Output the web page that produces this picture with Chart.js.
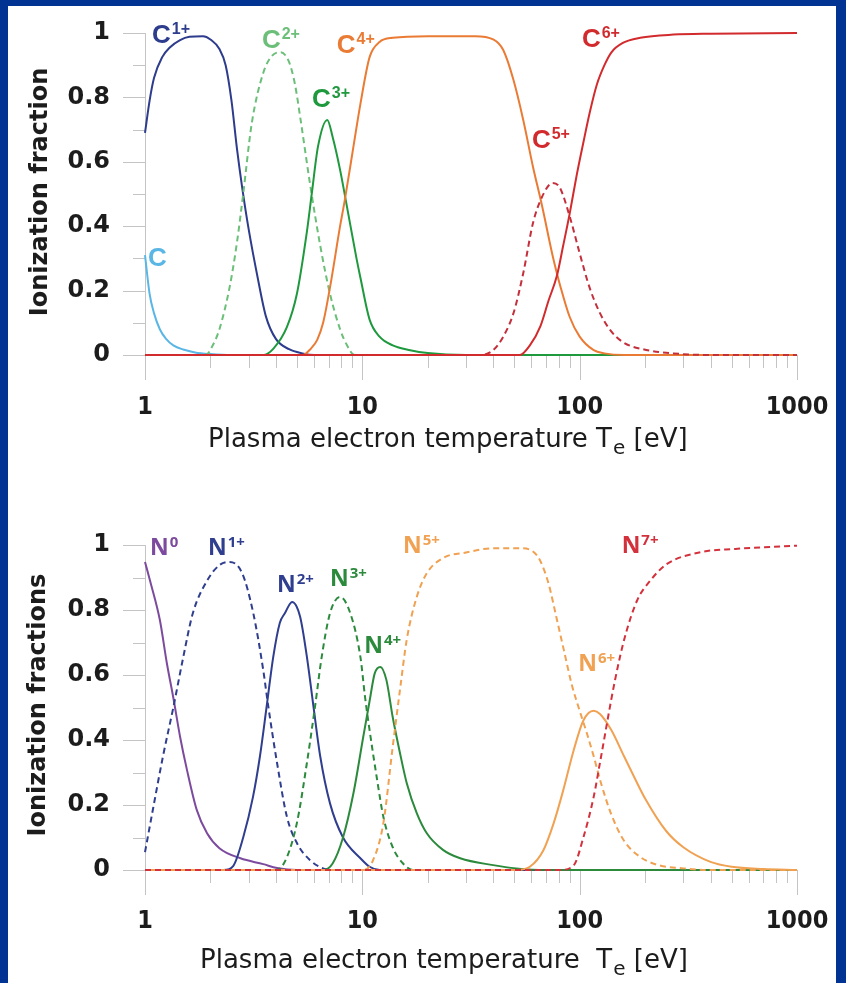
<!DOCTYPE html>
<html>
<head>
<meta charset="utf-8">
<script src="https://cdn.jsdelivr.net/npm/chart.js@4.4.1/dist/chart.umd.min.js"></script>
<style>
  html, body { margin: 0; padding: 0; width: 846px; height: 983px; overflow: hidden; background: #003392; }
  #panel { position: absolute; left: 8px; top: 6px; width: 828px; height: 977px; background: #fff; }
  #panel canvas { position: absolute; left: 0; }
  #carbon-chart { top: 0; }
  #nitrogen-chart { top: 484px; }
</style>
</head>
<body>
<div id="panel">
  <canvas id="carbon-chart" width="828" height="478"></canvas>
  <canvas id="nitrogen-chart" width="828" height="493"></canvas>
</div>
<script>
// Axis ticks (electron temperature in eV, ionization fraction)
const xMajorTicks = [1, 10, 100, 1000];
const xMinorTicks = [2, 3, 4, 5, 6, 7, 8, 9, 20, 30, 40, 50, 60, 70, 80, 90, 200, 300, 400, 500, 600, 700, 800, 900];
const yMajorTicks = [0, 0.2, 0.4, 0.6, 0.8, 1];
const yMinorTicks = [0.1, 0.3, 0.5, 0.7, 0.9];

// Carbon charge states: [Te (eV), fraction]
const carbon0 = [[1, 0.31], [1.05, 0.19], [1.1, 0.13], [1.17, 0.08], [1.25, 0.05], [1.35, 0.03], [1.5, 0.017], [1.7, 0.008], [2, 0.003], [2.5, 0], [1000, 0]];
const carbon1 = [[1, 0.69], [1.05, 0.79], [1.1, 0.86], [1.2, 0.925], [1.3, 0.955], [1.45, 0.978], [1.6, 0.988], [1.85, 0.99], [2, 0.98], [2.2, 0.95], [2.35, 0.9], [2.5, 0.79], [2.65, 0.64], [2.8, 0.52], [3, 0.39], [3.3, 0.24], [3.6, 0.12], [4, 0.05], [4.6, 0.018], [5.3, 0.005], [6, 0], [1000, 0]];
const carbon2 = [[1, 0], [1.9, 0], [2.05, 0.03], [2.2, 0.08], [2.45, 0.21], [2.65, 0.35], [2.83, 0.5], [3.1, 0.72], [3.5, 0.876], [3.85, 0.93], [4.2, 0.94], [4.6, 0.91], [4.9, 0.84], [5.2, 0.73], [5.75, 0.53], [6.4, 0.34], [7.1, 0.19], [7.9, 0.08], [8.5, 0.03], [9.2, 0], [1000, 0]];
const carbon3 = [[1, 0], [3.5, 0], [3.9, 0.02], [4.5, 0.087], [5, 0.19], [5.55, 0.38], [5.85, 0.5], [6.25, 0.647], [6.9, 0.73], [7.3, 0.677], [7.9, 0.575], [8.5, 0.46], [9.4, 0.3], [9.8, 0.24], [10.8, 0.11], [12, 0.057], [13.8, 0.03], [16.6, 0.015], [20, 0.006], [30, 0], [1000, 0]];
const carbon4 = [[1, 0], [5.3, 0], [5.8, 0.02], [6.2, 0.047], [6.6, 0.1], [7.1, 0.21], [7.9, 0.4], [8.3, 0.48], [9.1, 0.647], [9.8, 0.78], [10.8, 0.925], [12, 0.972], [13.8, 0.985], [20, 0.99], [33, 0.99], [40, 0.98], [44.5, 0.947], [49.6, 0.854], [55, 0.73], [61, 0.584], [67, 0.466], [75, 0.31], [78.5, 0.255], [81, 0.22], [90, 0.118], [100, 0.057], [116, 0.015], [130, 0.005], [160, 0], [1000, 0]];
const carbon5 = [[1, 0], [35, 0], [40, 0.015], [44.5, 0.057], [49.6, 0.13], [55, 0.254], [61, 0.41], [67, 0.49], [75, 0.534], [81, 0.52], [90, 0.43], [100, 0.316], [111, 0.21], [124, 0.13], [138, 0.078], [158, 0.04], [195, 0.018], [270, 0.005], [400, 0], [1000, 0]];
const carbon6 = [[1, 0], [53, 0], [59, 0.03], [66, 0.09], [72, 0.17], [78.5, 0.245], [84, 0.34], [90, 0.44], [97, 0.56], [104, 0.66], [111, 0.75], [120, 0.84], [130, 0.9], [140, 0.94], [158, 0.969], [190, 0.985], [270, 0.995], [400, 0.998], [1000, 1]];

// Nitrogen charge states: [Te (eV), fraction]
const nitrogen0 = [[1, 0.948], [1.055, 0.89], [1.17, 0.77], [1.26, 0.637], [1.35, 0.53], [1.45, 0.41], [1.56, 0.308], [1.73, 0.185], [1.93, 0.113], [2.2, 0.067], [2.75, 0.036], [3.5, 0.018], [4.05, 0.006], [5, 0], [1000, 0]];
const nitrogen1 = [[1, 0.055], [1.09, 0.19], [1.21, 0.35], [1.35, 0.5], [1.5, 0.655], [1.66, 0.79], [1.93, 0.89], [2.2, 0.938], [2.45, 0.948], [2.8, 0.913], [3.15, 0.79], [3.5, 0.615], [3.68, 0.51], [4.05, 0.33], [4.5, 0.163], [5, 0.083], [5.75, 0.03], [6.6, 0.005], [7.5, 0], [1000, 0]];
const nitrogen2 = [[1, 0], [2.3, 0], [2.55, 0.013], [2.83, 0.1], [3.14, 0.225], [3.38, 0.35], [3.64, 0.51], [3.89, 0.655], [4.17, 0.76], [4.4, 0.79], [4.75, 0.825], [5.17, 0.78], [5.56, 0.655], [5.94, 0.51], [6.4, 0.35], [7.1, 0.205], [8.15, 0.1], [9.8, 0.036], [10.8, 0.01], [12, 0], [1000, 0]];
const nitrogen3 = [[1, 0], [4.05, 0], [4.5, 0.04], [5, 0.145], [5.56, 0.33], [6.05, 0.5], [6.5, 0.655], [7.1, 0.79], [7.9, 0.84], [8.8, 0.79], [9.8, 0.655], [10.3, 0.53], [10.8, 0.43], [11.7, 0.277], [12.5, 0.163], [13.8, 0.07], [15.4, 0.02], [17.1, 0], [1000, 0]];
const nitrogen4 = [[1, 0], [6.6, 0], [7.3, 0.02], [8.15, 0.1], [9.1, 0.236], [10.1, 0.41], [10.8, 0.52], [11.4, 0.605], [12.1, 0.625], [12.9, 0.585], [13.8, 0.47], [14.9, 0.36], [16, 0.268], [17.8, 0.175], [19.8, 0.113], [23.5, 0.062], [28.2, 0.036], [40, 0.015], [51, 0.005], [70, 0], [1000, 0]];
const nitrogen5 = [[1, 0], [10.1, 0], [11.2, 0.03], [12.5, 0.145], [13.8, 0.38], [14.9, 0.554], [16, 0.708], [17.8, 0.84], [19.8, 0.913], [23.5, 0.96], [30, 0.977], [40, 0.99], [53, 0.99], [61, 0.98], [66, 0.95], [72, 0.88], [78, 0.78], [85, 0.67], [92, 0.57], [100, 0.49], [108, 0.42], [116, 0.35], [125, 0.27], [140, 0.17], [160, 0.09], [190, 0.04], [230, 0.015], [300, 0.005], [400, 0], [1000, 0]];
const nitrogen6 = [[1, 0], [51, 0], [59, 0.01], [68, 0.06], [76, 0.145], [84, 0.245], [94, 0.37], [104, 0.46], [116, 0.49], [124, 0.48], [140, 0.43], [160, 0.35], [180, 0.28], [200, 0.22], [250, 0.12], [300, 0.07], [400, 0.025], [500, 0.01], [700, 0.003], [1000, 0]];
const nitrogen7 = [[1, 0], [81, 0], [94, 0.015], [104, 0.1], [116, 0.225], [124, 0.33], [145, 0.58], [161, 0.714], [184, 0.83], [211, 0.89], [250, 0.94], [362, 0.978], [520, 0.988], [1000, 0.998]];

const TICK_COLOR = '#c4c4c4';
const TEXT_COLOR = '#1c1c1c';

// gray axis lines with long major and short minor ticks
const ionAxes = {
    id: 'ionAxes',
    beforeDatasetsDraw(chart) {
        const { ctx, scales: { x, y } } = chart;
        const x0 = x.getPixelForValue(1);
        const yBase = y.getPixelForValue(0);
        const seg = (ax, ay, bx, by) => {
            ctx.beginPath();
            ctx.moveTo(ax, ay);
            ctx.lineTo(bx, by);
            ctx.stroke();
        };
        ctx.save();
        ctx.strokeStyle = TICK_COLOR;
        ctx.lineWidth = 1;
        seg(x0 + 0.5, y.getPixelForValue(1), x0 + 0.5, yBase + 25);
        seg(x0 - 22, yBase + 0.5, x.right, yBase + 0.5);
        yMajorTicks.forEach(v => { const p = Math.round(y.getPixelForValue(v)) + 0.5; seg(x0 - 22, p, x0, p); });
        yMinorTicks.forEach(v => { const p = Math.round(y.getPixelForValue(v)) + 0.5; seg(x0 - 12, p, x0, p); });
        xMajorTicks.forEach(v => { const p = Math.round(x.getPixelForValue(v)) + 0.5; seg(p, yBase, p, yBase + 25); });
        xMinorTicks.forEach(v => { const p = Math.round(x.getPixelForValue(v)) + 0.5; seg(p, yBase, p, yBase + 13); });
        ctx.restore();
    },
    afterDraw(chart, args, opts) {
        const { ctx } = chart;
        ctx.save();
        ctx.fillStyle = TEXT_COLOR;
        // x title with subscripted "e"
        ctx.font = opts.xTitleFont;
        ctx.textBaseline = 'alphabetic';
        ctx.textAlign = 'left';
        let px = opts.xTitleX;
        ctx.fillText(opts.xTitle, px, opts.xTitleY);
        px += ctx.measureText(opts.xTitle).width;
        ctx.font = opts.xSubFont;
        ctx.fillText('e', px + 1, opts.xTitleY + 7);
        px += ctx.measureText('e').width + 1;
        ctx.font = opts.xTitleFont;
        ctx.fillText(' [eV]', px, opts.xTitleY);
        // rotated y title
        ctx.font = opts.yTitleFont;
        ctx.translate(opts.yTitleX, opts.yTitleY);
        ctx.rotate(-Math.PI / 2);
        ctx.textAlign = 'center';
        ctx.fillText(opts.yTitle, 0, 0);
        ctx.restore();
    }
};

// ion names next to their curves, with superscript charge
const ionLabels = {
    id: 'ionLabels',
    afterDatasetsDraw(chart, args, opts) {
        const { ctx, scales: { x, y } } = chart;
        ctx.save();
        ctx.textBaseline = 'alphabetic';
        ctx.textAlign = 'left';
        opts.items.forEach(item => {
            const px = x.getPixelForValue(item.at[0]);
            const py = y.getPixelForValue(item.at[1]);
            ctx.fillStyle = item.color;
            ctx.font = opts.font;
            ctx.fillText(item.base, px, py);
            const w = ctx.measureText(item.base).width;
            ctx.font = opts.supFont;
            ctx.fillText(item.sup, px + w + 1, py - opts.supRise);
        });
        ctx.restore();
    }
};

function makeSet(points, color, dashed) {
    return {
        data: points.map(p => ({ x: p[0], y: p[1] })),
        borderColor: color,
        borderWidth: 2,
        borderDash: dashed ? [6, 4] : [],
        pointRadius: 0,
        cubicInterpolationMode: 'monotone',
        fill: false,
        clip: 6
    };
}

function drawIonChart(canvasId, datasets, layout, axesOpts, labelOpts) {
    new Chart(document.getElementById(canvasId), {
        type: 'line',
        data: { datasets: datasets },
        options: {
            responsive: false,
            animation: false,
            devicePixelRatio: 1,
            layout: { padding: { top: layout.top, right: 39, left: 0, bottom: 0 } },
            plugins: {
                legend: { display: false },
                tooltip: { enabled: false },
                ionAxes: axesOpts,
                ionLabels: labelOpts
            },
            scales: {
                x: {
                    type: 'logarithmic',
                    min: 1,
                    max: 1000,
                    afterFit: s => {
                        s.height = layout.xHeight;
                        s.paddingLeft = 0;
                        s.paddingRight = 0;
                    },
                    afterBuildTicks: s => { s.ticks = xMajorTicks.map(v => ({ value: v })); },
                    grid: { display: false, drawTicks: false },
                    border: { display: false },
                    ticks: {
                        autoSkip: false,
                        maxRotation: 0,
                        padding: layout.xPad,
                        color: TEXT_COLOR,
                        font: { family: "'DejaVu Sans Condensed', 'DejaVu Sans'", size: 25, weight: 'bold' },
                        callback: v => String(v)
                    }
                },
                y: {
                    min: 0,
                    max: 1,
                    afterFit: s => {
                        s.width = 137;
                        s.paddingTop = 0;
                        s.paddingBottom = 0;
                    },
                    afterBuildTicks: s => { s.ticks = yMajorTicks.map(v => ({ value: v })); },
                    grid: { display: false, drawTicks: false },
                    border: { display: false },
                    ticks: {
                        padding: 35,
                        color: TEXT_COLOR,
                        font: { family: "'DejaVu Sans'", size: 24, weight: 'bold' },
                        callback: v => String(v)
                    }
                }
            }
        },
        plugins: [ionAxes, ionLabels]
    });
}

// first dataset ends up drawn on top
drawIonChart('carbon-chart', [
    makeSet(carbon6, '#d22b2d', false),
    makeSet(carbon5, '#c3303c', true),
    makeSet(carbon4, '#ea7b34', false),
    makeSet(carbon3, '#1f993d', false),
    makeSet(carbon2, '#6bbf78', true),
    makeSet(carbon1, '#2d3c8c', false),
    makeSet(carbon0, '#5ab6e4', false)
], { top: 27, xHeight: 129, xPad: 37 }, {
    xTitle: 'Plasma electron temperature T',
    xTitleFont: "26px 'DejaVu Sans'",
    xSubFont: "20px 'DejaVu Sans'",
    xTitleX: 200, xTitleY: 441,
    yTitle: 'Ionization fraction',
    yTitleFont: "bold 24px 'DejaVu Sans'",
    yTitleX: 39, yTitleY: 186
}, {
    font: "bold 26px 'Liberation Sans'",
    supFont: "bold 16px 'Liberation Sans'",
    supRise: 9,
    items: [
        { base: 'C', sup: '', color: '#5ab6e4', at: [1.032, 0.276] },
        { base: 'C', sup: '1+', color: '#2d3c8c', at: [1.077, 0.969] },
        { base: 'C', sup: '2+', color: '#6bbf78', at: [3.45, 0.953] },
        { base: 'C', sup: '3+', color: '#1f993d', at: [5.87, 0.77] },
        { base: 'C', sup: '4+', color: '#ea7b34', at: [7.63, 0.938] },
        { base: 'C', sup: '5+', color: '#d22b2d', at: [60.3, 0.643] },
        { base: 'C', sup: '6+', color: '#d22b2d', at: [102.4, 0.957] }
    ]
});

drawIonChart('nitrogen-chart', [
    makeSet(nitrogen7, '#d3313c', true),
    makeSet(nitrogen5, '#f0a152', true),
    makeSet(nitrogen6, '#f0a152', false),
    makeSet(nitrogen4, '#2b8a3c', false),
    makeSet(nitrogen3, '#2b8a3c', true),
    makeSet(nitrogen2, '#2f3e8e', false),
    makeSet(nitrogen1, '#2f3e8e', true),
    makeSet(nitrogen0, '#7c4b9e', false)
], { top: 55, xHeight: 113, xPad: 36 }, {
    xTitle: 'Plasma electron temperature  T',
    xTitleFont: "26px 'DejaVu Sans'",
    xSubFont: "20px 'DejaVu Sans'",
    xTitleX: 192, xTitleY: 478,
    yTitle: 'Ionization fractions',
    yTitleFont: "bold 24px 'DejaVu Sans'",
    yTitleX: 37, yTitleY: 215
}, {
    font: "bold 23px 'Open Sans'",
    supFont: "bold 15px 'Open Sans'",
    supRise: 8,
    items: [
        { base: 'N', sup: '0', color: '#7c4b9e', at: [1.054, 0.969] },
        { base: 'N', sup: '1+', color: '#2f3e8e', at: [1.95, 0.969] },
        { base: 'N', sup: '2+', color: '#2f3e8e', at: [4.05, 0.855] },
        { base: 'N', sup: '3+', color: '#2b8a3c', at: [7.1, 0.874] },
        { base: 'N', sup: '4+', color: '#2b8a3c', at: [10.2, 0.668] },
        { base: 'N', sup: '5+', color: '#f0a152', at: [15.4, 0.975] },
        { base: 'N', sup: '6+', color: '#f0a152', at: [98.5, 0.612] },
        { base: 'N', sup: '7+', color: '#d3313c', at: [156, 0.975] }
    ]
});
</script>
</body>
</html>
